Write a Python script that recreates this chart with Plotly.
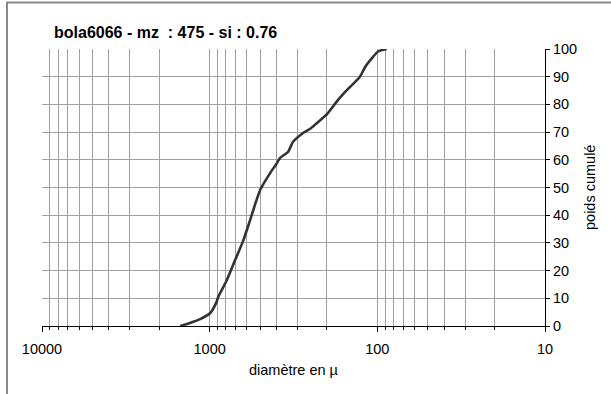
import plotly.graph_objects as go

# Data (diameter in microns, cumulative weight %)
diametre = [1500, 1462, 1300, 1140, 995, 908, 891, 791, 705, 629, 574, 500,
            436, 400, 380, 341, 318, 277, 250, 229, 199, 171, 151, 127,
            118, 107, 99, 88]
poids = [0.0, 0.2, 1.2, 2.5, 4.6, 8.8, 10.4, 16.5, 23.8, 31.0, 38.2, 49.1,
         55.2, 58.5, 60.7, 62.8, 66.5, 69.7, 71.3, 73.3, 76.6, 81.7, 85.3, 90.0,
         93.6, 96.9, 99.1, 100.0]

major_ticks = [10000, 1000, 100, 10]
major_labels = ["10000", "1000", "100", "10"]
minor_ticks = [m * d for d in (10, 100, 1000) for m in range(2, 10)]
y_ticks = list(range(0, 101, 10))

title_text = "bola6066 - mz\u00a0 : 475 - si : 0.76"
x_title = "diamètre en µ"
y_title = "poids cumulé"

FONT = "Arial, Liberation Sans, sans-serif"
GRID = "#a0a0a0"

L, R, T, B = 42, 545, 49.3, 325.7
PW, PH = R - L, B - T

fig = go.Figure()
fig.add_trace(go.Scatter(
    x=diametre, y=poids, mode="lines",
    line=dict(color="#333333", width=2.6, shape="spline", smoothing=0.6),
    showlegend=False, hoverinfo="skip"))

fig.update_layout(
    width=611, height=394,
    margin=dict(l=L, r=611 - R, t=T, b=394 - B),
    paper_bgcolor="white", plot_bgcolor="white",
    font=dict(family=FONT, size=14, color="black"),
    xaxis=dict(
        type="log", range=[4, 1], automargin=False,
        tickmode="array", tickvals=major_ticks, ticktext=major_labels,
        ticks="outside", ticklen=5, tickcolor="black", tickwidth=1,
        ticklabelstandoff=5,
        showgrid=True, gridcolor=GRID, gridwidth=1,
        showline=True, linecolor="black", linewidth=1,
        zeroline=False,
        tickfont=dict(size=14.5),
        minor=dict(tickmode="array", tickvals=minor_ticks, ticks="outside",
                   ticklen=3, tickcolor="black", showgrid=True,
                   gridcolor=GRID, gridwidth=1),
    ),
    yaxis=dict(
        side="right", range=[0, 100], automargin=False,
        tickmode="array", tickvals=y_ticks,
        ticks="outside", ticklen=4, tickcolor="black",
        showgrid=True, gridcolor=GRID, gridwidth=1,
        showline=True, linecolor="black", linewidth=1,
        zeroline=False, tickfont=dict(size=14.5),
    ),
    annotations=[
        dict(text="<b>" + title_text + "</b>", xref="paper", yref="paper",
             x=(52 - L) / PW, y=(B - 33) / PH,
             xanchor="left", yanchor="middle", showarrow=False,
             font=dict(size=16, family=FONT, color="black")),
        dict(text=x_title, xref="paper", yref="paper",
             x=0.5, y=(B - 370) / PH, xanchor="center", yanchor="middle",
             showarrow=False, font=dict(size=14.5, family=FONT)),
        dict(text=y_title, xref="paper", yref="paper",
             x=(590 - L) / PW, y=(B - 188) / PH, xanchor="center",
             yanchor="middle", textangle=-90,
             showarrow=False, font=dict(size=14.5, family=FONT)),
    ],
    shapes=[dict(type="rect", xref="paper", yref="paper",
                 x0=(7 - L) / PW, x1=(640 - L) / PW,
                 y0=(B - 420) / PH, y1=(B - 3) / PH,
                 line=dict(color="#8a8a8a", width=2), layer="below")],
)

fig.write_html(
    "out.html",
    config={"displayModeBar": False},
    post_script="document.body.style.margin='0';document.body.style.overflow='hidden';",
)
